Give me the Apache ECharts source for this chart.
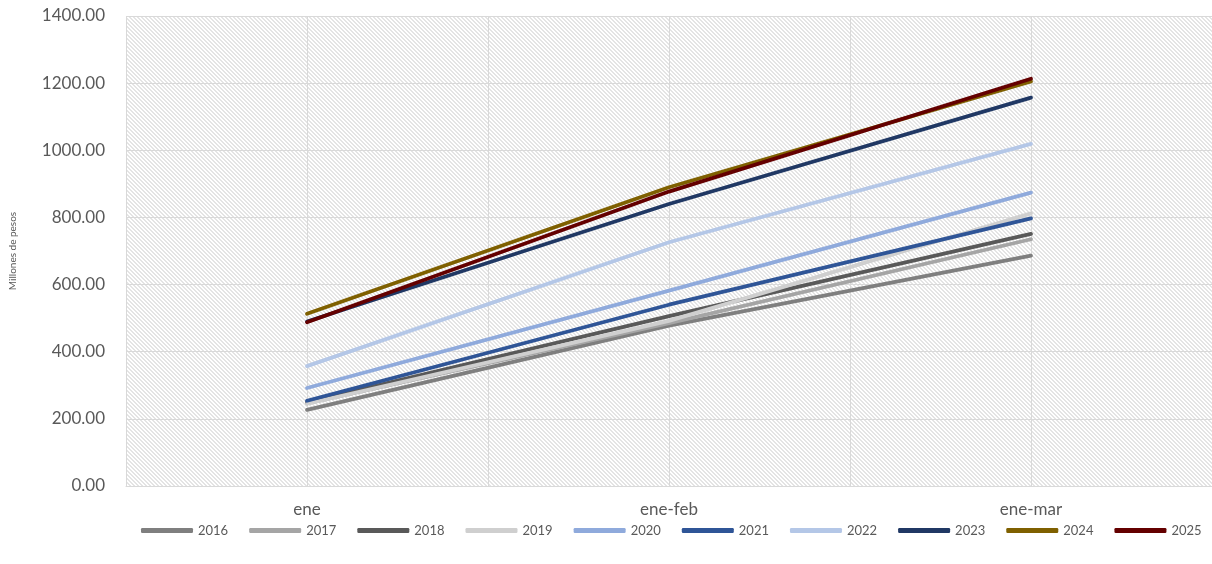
<!DOCTYPE html>
<html><head><meta charset="utf-8">
<script src="https://cdn.jsdelivr.net/npm/echarts@6/dist/echarts.min.js"></script>
<style>html,body{margin:0;padding:0;background:#fff;}#c{width:1212px;height:564px;}</style>
</head><body><div id="c"></div>
<script>
const categories = ['ene', 'ene-feb', 'ene-mar'];
const yTicks = [0, 200, 400, 600, 800, 1000, 1200, 1400];
const years = ['2016','2017','2018','2019','2020','2021','2022','2023','2024','2025'];
const s2016 = [227, 478, 686];
const s2017 = [246, 485, 735];
const s2018 = [250, 506, 751];
const s2019 = [245, 492, 812];
const s2020 = [292, 582, 874];
const s2021 = [254, 540, 797];
const s2022 = [357, 726, 1019];
const s2023 = [490, 840, 1157];
const s2024 = [513, 890, 1205];
const s2025 = [488, 877, 1213];
const seriesValues = [s2016,s2017,s2018,s2019,s2020,s2021,s2022,s2023,s2024,s2025];
const colors = ['#7f7f7f','#a5a5a5','#595959','#cfcfcf','#8faadc','#2f5597','#b4c7e7','#203864','#7f6000','#640000'];

const N = 4;
const tile = document.createElement('canvas');
tile.width = N; tile.height = N;
const tctx = tile.getContext('2d');
tctx.fillStyle = '#ffffff'; tctx.fillRect(0,0,N,N);
tctx.fillStyle = '#e4e4e4';
for (let y = 0; y < N; y++) {
  for (let k = 0; k < 2; k++) tctx.fillRect((y + k) % N, y, 1, 1);
}

const font = 'Lato, "Open Sans", sans-serif';
const chart = echarts.init(document.getElementById('c'));
chart.setOption({
  animation: false,
  backgroundColor: '#ffffff',
  grid: { left: 123, top: 16, right: -3, height: 470, show: true, borderWidth: 0,
          backgroundColor: { image: tile, repeat: 'repeat' } },
  xAxis: [
    { type: 'category', data: categories, boundaryGap: true,
      axisLine: { lineStyle: { color: '#d9d9d9', width: 1 } }, axisTick: { show: false },
      splitLine: { show: false },
      axisLabel: { color: '#595959', fontSize: 17, fontFamily: font, margin: 15 } },
    { type: 'value', min: 0, max: 6, interval: 1, position: 'top',
      axisLine: { show: false }, axisTick: { show: false }, axisLabel: { show: false },
      splitLine: { show: true, lineStyle: { color: '#d9d9d9', width: 1 } } }
  ],
  yAxis: { type: 'value', min: 0, max: 1400, interval: 200,
    name: 'Millones de pesos', nameLocation: 'middle', nameGap: 108,
    nameTextStyle: { color: '#595959', fontSize: 10, fontFamily: font },
    axisLine: { show: false }, axisTick: { show: false },
    axisLabel: { color: '#595959', fontSize: 17, fontFamily: font, margin: 21,
      formatter: v => yTicks.includes(v) ? v.toFixed(2) : '' },
    splitLine: { lineStyle: { color: '#d9d9d9', width: 1 } } },
  legend: { bottom: 22, left: 136, width: 1100, itemWidth: 52, itemHeight: 5, itemGap: 21,
    icon: 'roundRect', data: years,
    textStyle: { color: '#595959', fontSize: 13, fontFamily: font } },
  series: years.map((y, i) => ({
    name: y, type: 'line', data: seriesValues[i], xAxisIndex: 0,
    symbol: 'none', color: colors[i],
    lineStyle: { width: 3.8, color: colors[i], cap: 'round' }, z: 2 + i
  }))
});
</script></body></html>
